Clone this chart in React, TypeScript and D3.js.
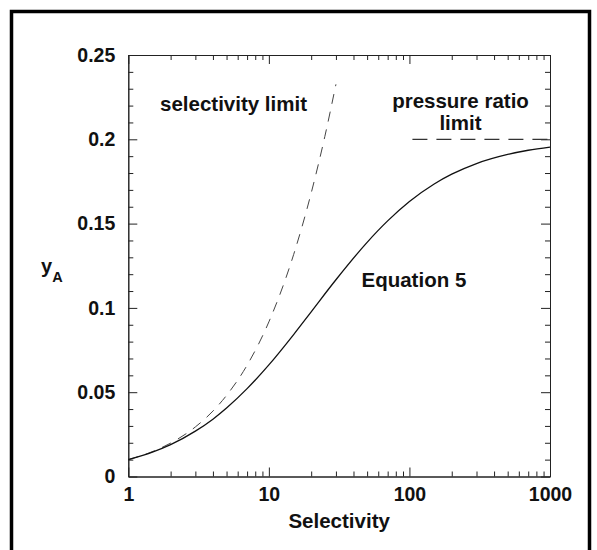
import React, { useEffect, useRef } from "react";
import * as d3 from "d3";

// Equation 5 curve (selectivity vs y_A)
const selectivity = [1, 1.5, 2, 3, 4, 5, 7, 10, 15, 20, 30, 50, 70, 100, 150, 200, 300, 500, 700, 1000];
const equation5 = [0.01, 0.0146, 0.0189, 0.0269, 0.034, 0.0406, 0.0521, 0.0662, 0.0842, 0.0977, 0.1167, 0.1389, 0.1516, 0.1631, 0.1735, 0.1793, 0.1856, 0.191, 0.1935, 0.1954];

// dashed selectivity limit
const limitSel = [1, 1.5, 2, 3, 4, 5, 7, 10, 15, 20, 25, 30];
const limitY = [0.01, 0.0149, 0.0198, 0.0294, 0.0388, 0.0481, 0.066, 0.0917, 0.1316, 0.1681, 0.2016, 0.2326];

// dashed pressure ratio limit
const pressureSel = [105, 1000];
const pressureY = [0.2, 0.2];

const xMajor = [1, 10, 100, 1000];
const xMajorLabels = ["1", "10", "100", "1000"];
const yMajor = [0, 0.05, 0.1, 0.15, 0.2, 0.25];
const yMajorLabels = ["0", "0.05", "0.1", "0.15", "0.2", "0.25"];

const width = 597;
const height = 550;
const marginLeft = 128.3;
const marginRight = 47;
const marginTop = 55;
const marginBottom = 73.5;
const font = "'Liberation Sans', Arial, Helvetica, sans-serif";

const Chart = () => {
  const ref = useRef(null);

  useEffect(() => {
    const svg = d3.select(ref.current);
    svg.selectAll("*").remove();

    const x = d3.scaleLog([1, 1000], [marginLeft, width - marginRight]);
    const y = d3.scaleLinear([0, 0.25], [height - marginBottom, marginTop]);

    // outer frame
    svg
      .append("path")
      .attr("d", `M11.5,${height + 5}V11.5H589.5V${height + 5}`)
      .attr("fill", "none")
      .attr("stroke", "#000")
      .attr("stroke-width", 3.5);

    const xMinor = x.ticks().filter((d) => !xMajor.includes(d));
    const yMinor = d3.range(0, 26).map((d) => d / 100).filter((d) => Math.round(d * 100) % 5 !== 0);

    const styleAxis = (g, labels) => {
      g.select(".domain").attr("stroke", "#222").attr("stroke-width", 1);
      g.selectAll(".tick line").attr("stroke", "#222");
      if (labels)
        g.selectAll(".tick text")
          .attr("fill", "#111")
          .attr("font-family", font)
          .attr("font-weight", "bold")
          .attr("font-size", 19.5);
      else g.selectAll(".tick text").remove();
    };

    const yb = height - marginBottom;
    const xr = width - marginRight;

    // bottom
    svg.append("g").attr("transform", `translate(0,${yb})`)
      .call(d3.axisBottom(x).tickValues(xMinor).tickSize(-5).tickSizeOuter(0))
      .call((g) => styleAxis(g, false));
    svg.append("g").attr("transform", `translate(0,${yb})`)
      .call(d3.axisBottom(x).tickValues(xMajor).tickFormat((d, i) => xMajorLabels[i]).tickSize(-9).tickSizeOuter(0).tickPadding(11))
      .call((g) => styleAxis(g, true));
    // top
    svg.append("g").attr("transform", `translate(0,${marginTop})`)
      .call(d3.axisTop(x).tickValues(xMinor).tickSize(-5).tickSizeOuter(0))
      .call((g) => styleAxis(g, false));
    svg.append("g").attr("transform", `translate(0,${marginTop})`)
      .call(d3.axisTop(x).tickValues(xMajor).tickSize(-9).tickSizeOuter(0))
      .call((g) => styleAxis(g, false));
    // left
    svg.append("g").attr("transform", `translate(${marginLeft},0)`)
      .call(d3.axisLeft(y).tickValues(yMinor).tickSize(-5).tickSizeOuter(0))
      .call((g) => styleAxis(g, false));
    svg.append("g").attr("transform", `translate(${marginLeft},0)`)
      .call(d3.axisLeft(y).tickValues(yMajor).tickFormat((d, i) => yMajorLabels[i]).tickSize(-9).tickSizeOuter(0).tickPadding(13))
      .call((g) => styleAxis(g, true));
    // right
    svg.append("g").attr("transform", `translate(${xr},0)`)
      .call(d3.axisRight(y).tickValues(yMinor).tickSize(-5).tickSizeOuter(0))
      .call((g) => styleAxis(g, false));
    svg.append("g").attr("transform", `translate(${xr},0)`)
      .call(d3.axisRight(y).tickValues(yMajor).tickSize(-9).tickSizeOuter(0))
      .call((g) => styleAxis(g, false));

    const line = d3
      .line()
      .x((d) => x(d[0]))
      .y((d) => y(d[1]))
      .curve(d3.curveMonotoneX);

    svg.append("path")
      .datum(limitSel.map((s, i) => [s, limitY[i]]))
      .attr("d", line)
      .attr("fill", "none")
      .attr("stroke", "#444")
      .attr("stroke-width", 1)
      .attr("stroke-dasharray", "10,8");

    svg.append("path")
      .datum(pressureSel.map((s, i) => [s, pressureY[i]]))
      .attr("d", line)
      .attr("fill", "none")
      .attr("stroke", "#333")
      .attr("stroke-width", 1.2)
      .attr("stroke-dasharray", "15,9");

    svg.append("path")
      .datum(selectivity.map((s, i) => [s, equation5[i]]))
      .attr("d", line)
      .attr("fill", "none")
      .attr("stroke", "#111")
      .attr("stroke-width", 1.3);

    const label = (txt, tx, ty, anchor, size = 20.5) =>
      svg.append("text")
        .attr("x", tx)
        .attr("y", ty)
        .attr("text-anchor", anchor)
        .attr("font-family", font)
        .attr("font-weight", "bold")
        .attr("font-size", size)
        .attr("fill", "#111")
        .text(txt);

    label("selectivity limit", 160, 111, "start");
    label("pressure ratio", 460.5, 108, "middle");
    label("limit", 460.5, 129.5, "middle");
    label("Equation 5", 361.5, 287, "start");
    label("Selectivity", (marginLeft + xr) / 2, 528, "middle");

    const yl = svg.append("text")
      .attr("x", 41)
      .attr("y", 272.5)
      .attr("font-family", font)
      .attr("font-weight", "bold")
      .attr("fill", "#111");
    yl.append("tspan").attr("font-size", 20).text("y");
    yl.append("tspan").attr("font-size", 14.5).attr("dy", 9).text("A");
  }, []);

  return <svg ref={ref} width={width} height={height} style={{ position: "absolute", left: 0, top: 0, background: "#fff" }} />;
};

export default function App() {
  return <Chart />;
}
